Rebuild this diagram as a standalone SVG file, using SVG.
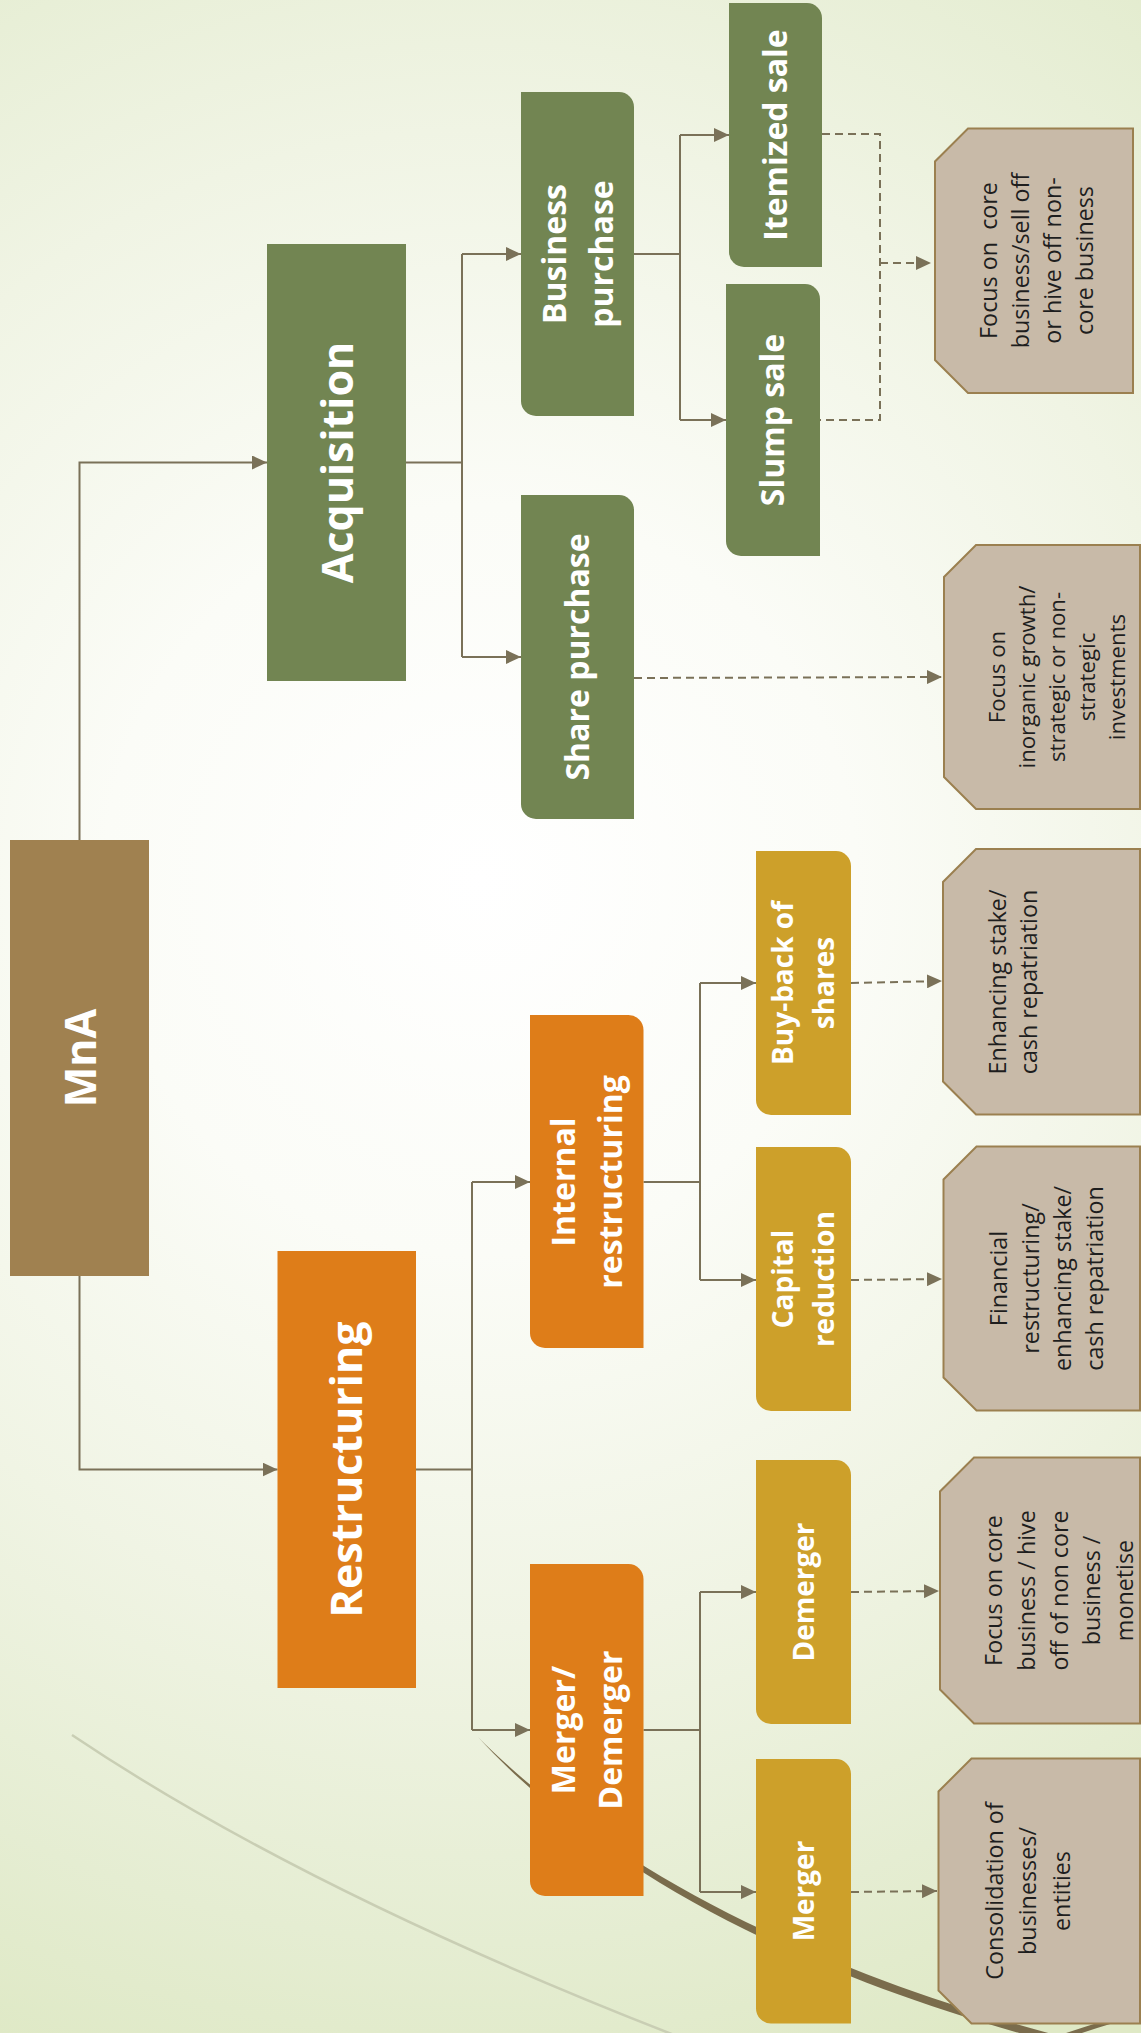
<svg xmlns="http://www.w3.org/2000/svg" width="1141" height="2033" viewBox="0 0 1141 2033">
<defs>
<radialGradient id="bg" gradientUnits="userSpaceOnUse" cx="480" cy="880" r="1250">
<stop offset="0" stop-color="#FFFFFF"/>
<stop offset="0.3" stop-color="#FBFCF7"/>
<stop offset="0.6" stop-color="#F0F4E4"/>
<stop offset="0.85" stop-color="#E5EDD2"/>
<stop offset="1" stop-color="#DFE9C6"/>
</radialGradient>
<marker id="ar" markerUnits="userSpaceOnUse" markerWidth="15" markerHeight="14" refX="15" refY="7" orient="auto">
<path d="M0,0 L15,7 L0,14 Z" fill="#7A7158"/>
</marker>
<style>
.ln{fill:none;stroke:#7A7158;stroke-width:2}
.ds{fill:none;stroke:#7A7158;stroke-width:2;stroke-dasharray:8 5}
.g{fill:#728552}
.o{fill:#DE7D19}
.y{fill:#CDA02A}
.b{fill:#A08150}
.nt{fill:#C8BAA8;stroke:#9B8050;stroke-width:2}
.t1{font-family:'Open Sans','Noto Sans',sans-serif;font-weight:700;font-size:43px;fill:#FFFFFF;text-anchor:middle}
.t2{font-family:'Open Sans','Noto Sans',sans-serif;font-weight:700;font-size:32px;fill:#FFFFFF;text-anchor:middle}
.t3{font-family:'Open Sans','Noto Sans',sans-serif;font-weight:700;font-size:28px;fill:#FFFFFF;text-anchor:middle}
.tn{font-family:'Open Sans','Noto Sans',sans-serif;font-weight:400;font-size:23.3px;fill:#1E1E1E;text-anchor:middle}
</style>
</defs>
<rect x="0" y="0" width="1141" height="2033" fill="url(#bg)"/>
<g id="decor">
<path d="M72 1735 Q310 1895 700 2045" fill="none" stroke="#C9CEB4" stroke-width="2.5"/>
<path d="M478 1737 C600 1860 800 1970 1075 2040 L1072 2047 C797 1978 597 1867 478 1737 Z" fill="#7A6C4C"/>
<path d="M1040 2045 Q1085 2028 1150 2010" fill="none" stroke="#7A6C4C" stroke-width="5"/>
</g>
<g id="connectors">
<path class="ln" d="M79.5 840 V462.5 H267" marker-end="url(#ar)"/>
<path class="ln" d="M79.5 1276 V1469.5 H277.5" marker-end="url(#ar)"/>
<path class="ln" d="M406 462.5 H462 M462 254 V657"/>
<path class="ln" d="M462 254 H521" marker-end="url(#ar)"/>
<path class="ln" d="M462 657 H521" marker-end="url(#ar)"/>
<path class="ln" d="M634 254 H680 M680 135 V420"/>
<path class="ln" d="M680 135 H729" marker-end="url(#ar)"/>
<path class="ln" d="M680 420 H726" marker-end="url(#ar)"/>
<path class="ln" d="M416 1469.5 H472 M472 1182 V1730"/>
<path class="ln" d="M472 1182 H530" marker-end="url(#ar)"/>
<path class="ln" d="M472 1730 H530" marker-end="url(#ar)"/>
<path class="ln" d="M643.5 1182 H700 M700 983 V1280"/>
<path class="ln" d="M700 983 H756" marker-end="url(#ar)"/>
<path class="ln" d="M700 1280 H756" marker-end="url(#ar)"/>
<path class="ln" d="M643.5 1730 H700 M700 1592 V1892"/>
<path class="ln" d="M700 1592 H756" marker-end="url(#ar)"/>
<path class="ln" d="M700 1892 H756" marker-end="url(#ar)"/>
<path class="ds" d="M822 134 H880 V420 H820"/>
<path class="ds" d="M880 263 H931" marker-end="url(#ar)"/>
<path class="ds" d="M634 678 L942 677" marker-end="url(#ar)"/>
<path class="ds" d="M851 983 L942 981" marker-end="url(#ar)"/>
<path class="ds" d="M851 1280 L942 1279" marker-end="url(#ar)"/>
<path class="ds" d="M851 1592 L939 1591" marker-end="url(#ar)"/>
<path class="ds" d="M851 1892 L937 1891" marker-end="url(#ar)"/>
</g>
<g id="mna">
<rect class="b" x="10" y="840" width="139" height="436"/>
<text class="t1" transform="translate(79.5 1058) rotate(-90)" y="16">MnA</text>
</g>
<g id="acquisition">
<rect class="g" x="267" y="244" width="139" height="437"/>
<text class="t1" transform="translate(336.5 462.5) rotate(-90)" y="16">Acquisition</text>
</g>
<g id="restructuring">
<rect class="o" x="277.5" y="1251" width="138.5" height="437"/>
<text class="t1" transform="translate(346.75 1469.5) rotate(-90)" y="15.5">Restructuring</text>
</g>
<g id="business-purchase">
<path class="g" d="M521 92 H619 A15 15 0 0 1 634 107 V416 H536 A15 15 0 0 1 521 401 Z"/>
<text class="t2" transform="translate(577.5 254) rotate(-90)"><tspan x="0" y="-12">Business</tspan><tspan x="0" y="35">purchase</tspan></text>
</g>
<g id="share-purchase">
<path class="g" d="M521 495 H619 A15 15 0 0 1 634 510 V819 H536 A15 15 0 0 1 521 804 Z"/>
<text class="t2" transform="translate(577.5 657) rotate(-90)" y="11">Share purchase</text>
</g>
<g id="itemized-sale">
<path class="g" d="M729 3 H807 A15 15 0 0 1 822 18 V267 H744 A15 15 0 0 1 729 252 Z"/>
<text class="t2" transform="translate(775.5 135) rotate(-90)" y="11.5">Itemized sale</text>
</g>
<g id="slump-sale">
<path class="g" d="M726 284 H805 A15 15 0 0 1 820 299 V556 H741 A15 15 0 0 1 726 541 Z"/>
<text class="t2" transform="translate(773 420) rotate(-90)" y="11">Slump sale</text>
</g>
<g id="internal-restructuring">
<path class="o" d="M530 1015 H628.5 A15 15 0 0 1 643.5 1030 V1348 H545 A15 15 0 0 1 530 1333 Z"/>
<text class="t2" transform="translate(586.75 1182) rotate(-90)"><tspan x="0" y="-12">Internal</tspan><tspan x="0" y="35">restructuring</tspan></text>
</g>
<g id="merger-demerger">
<path class="o" d="M530 1564 H628.5 A15 15 0 0 1 643.5 1579 V1896 H545 A15 15 0 0 1 530 1881 Z"/>
<text class="t2" transform="translate(586.75 1730) rotate(-90)"><tspan x="0" y="-12">Merger/</tspan><tspan x="0" y="35">Demerger</tspan></text>
</g>
<g id="buy-back">
<path class="y" d="M756 851 H836 A15 15 0 0 1 851 866 V1115 H771 A15 15 0 0 1 756 1100 Z"/>
<text class="t3" transform="translate(803.5 983) rotate(-90)"><tspan x="0" y="-10.5">Buy-back of</tspan><tspan x="0" y="30.5">shares</tspan></text>
</g>
<g id="capital-reduction">
<path class="y" d="M756 1147 H836 A15 15 0 0 1 851 1162 V1411 H771 A15 15 0 0 1 756 1396 Z"/>
<text class="t3" transform="translate(803.5 1279) rotate(-90)"><tspan x="0" y="-10.5">Capital</tspan><tspan x="0" y="30.5">reduction</tspan></text>
</g>
<g id="demerger">
<path class="y" d="M756 1460 H836 A15 15 0 0 1 851 1475 V1724 H771 A15 15 0 0 1 756 1709 Z"/>
<text class="t3" transform="translate(803.5 1592) rotate(-90)" y="10">Demerger</text>
</g>
<g id="merger">
<path class="y" d="M756 1759 H836 A15 15 0 0 1 851 1774 V2023.5 H771 A15 15 0 0 1 756 2008.5 Z"/>
<text class="t3" transform="translate(803.5 1891) rotate(-90)" y="10">Merger</text>
</g>
<g id="note-business">
<path class="nt" d="M968 128.5 H1133 V393 H968 L935 360 V161.5 Z"/>
<text class="tn" transform="translate(935 260.5) rotate(-90)"><tspan x="0" y="62">Focus on&#160; core</tspan><tspan x="0" y="94">business/sell off</tspan><tspan x="0" y="126">or hive off non-</tspan><tspan x="0" y="158">core business</tspan></text>
</g>
<g id="note-share">
<path class="nt" d="M976 545 H1140 V809 H976 L944 777 V577 Z"/>
<text class="tn" style="font-size:22.2px" transform="translate(944 677) rotate(-90)"><tspan x="0" y="61">Focus on</tspan><tspan x="0" y="91">inorganic growth/</tspan><tspan x="0" y="121">strategic or non-</tspan><tspan x="0" y="151">strategic</tspan><tspan x="0" y="181">investments</tspan></text>
</g>
<g id="note-buyback">
<path class="nt" d="M976 849 H1140 V1114.5 H976 L943 1081.5 V882 Z"/>
<text class="tn" transform="translate(943 982) rotate(-90)"><tspan x="0" y="63">Enhancing stake/</tspan><tspan x="0" y="94">cash repatriation</tspan></text>
</g>
<g id="note-capital">
<path class="nt" d="M976.5 1146.5 H1140 V1410.5 H976.5 L943.5 1377.5 V1179.5 Z"/>
<text class="tn" transform="translate(943.5 1278.5) rotate(-90)"><tspan x="0" y="63">Financial</tspan><tspan x="0" y="95">restructuring/</tspan><tspan x="0" y="127">enhancing stake/</tspan><tspan x="0" y="159">cash repatriation</tspan></text>
</g>
<g id="note-demerger">
<path class="nt" d="M974 1457.5 H1140 V1723.5 H974 L940 1689.5 V1491.5 Z"/>
<text class="tn" transform="translate(940 1590.5) rotate(-90)"><tspan x="0" y="62">Focus on core</tspan><tspan x="0" y="95">business / hive</tspan><tspan x="0" y="127.5">off of non core</tspan><tspan x="0" y="160">business /</tspan><tspan x="0" y="192.5">monetise</tspan></text>
</g>
<g id="note-merger">
<path class="nt" d="M971.5 1758.5 H1140 V2023.5 H971.5 L938.5 1990.5 V1791.5 Z"/>
<text class="tn" transform="translate(938.5 1891) rotate(-90)"><tspan x="0" y="64">Consolidation of</tspan><tspan x="0" y="97.5">businesses/</tspan><tspan x="0" y="131">entities</tspan></text>
</g>
</svg>
